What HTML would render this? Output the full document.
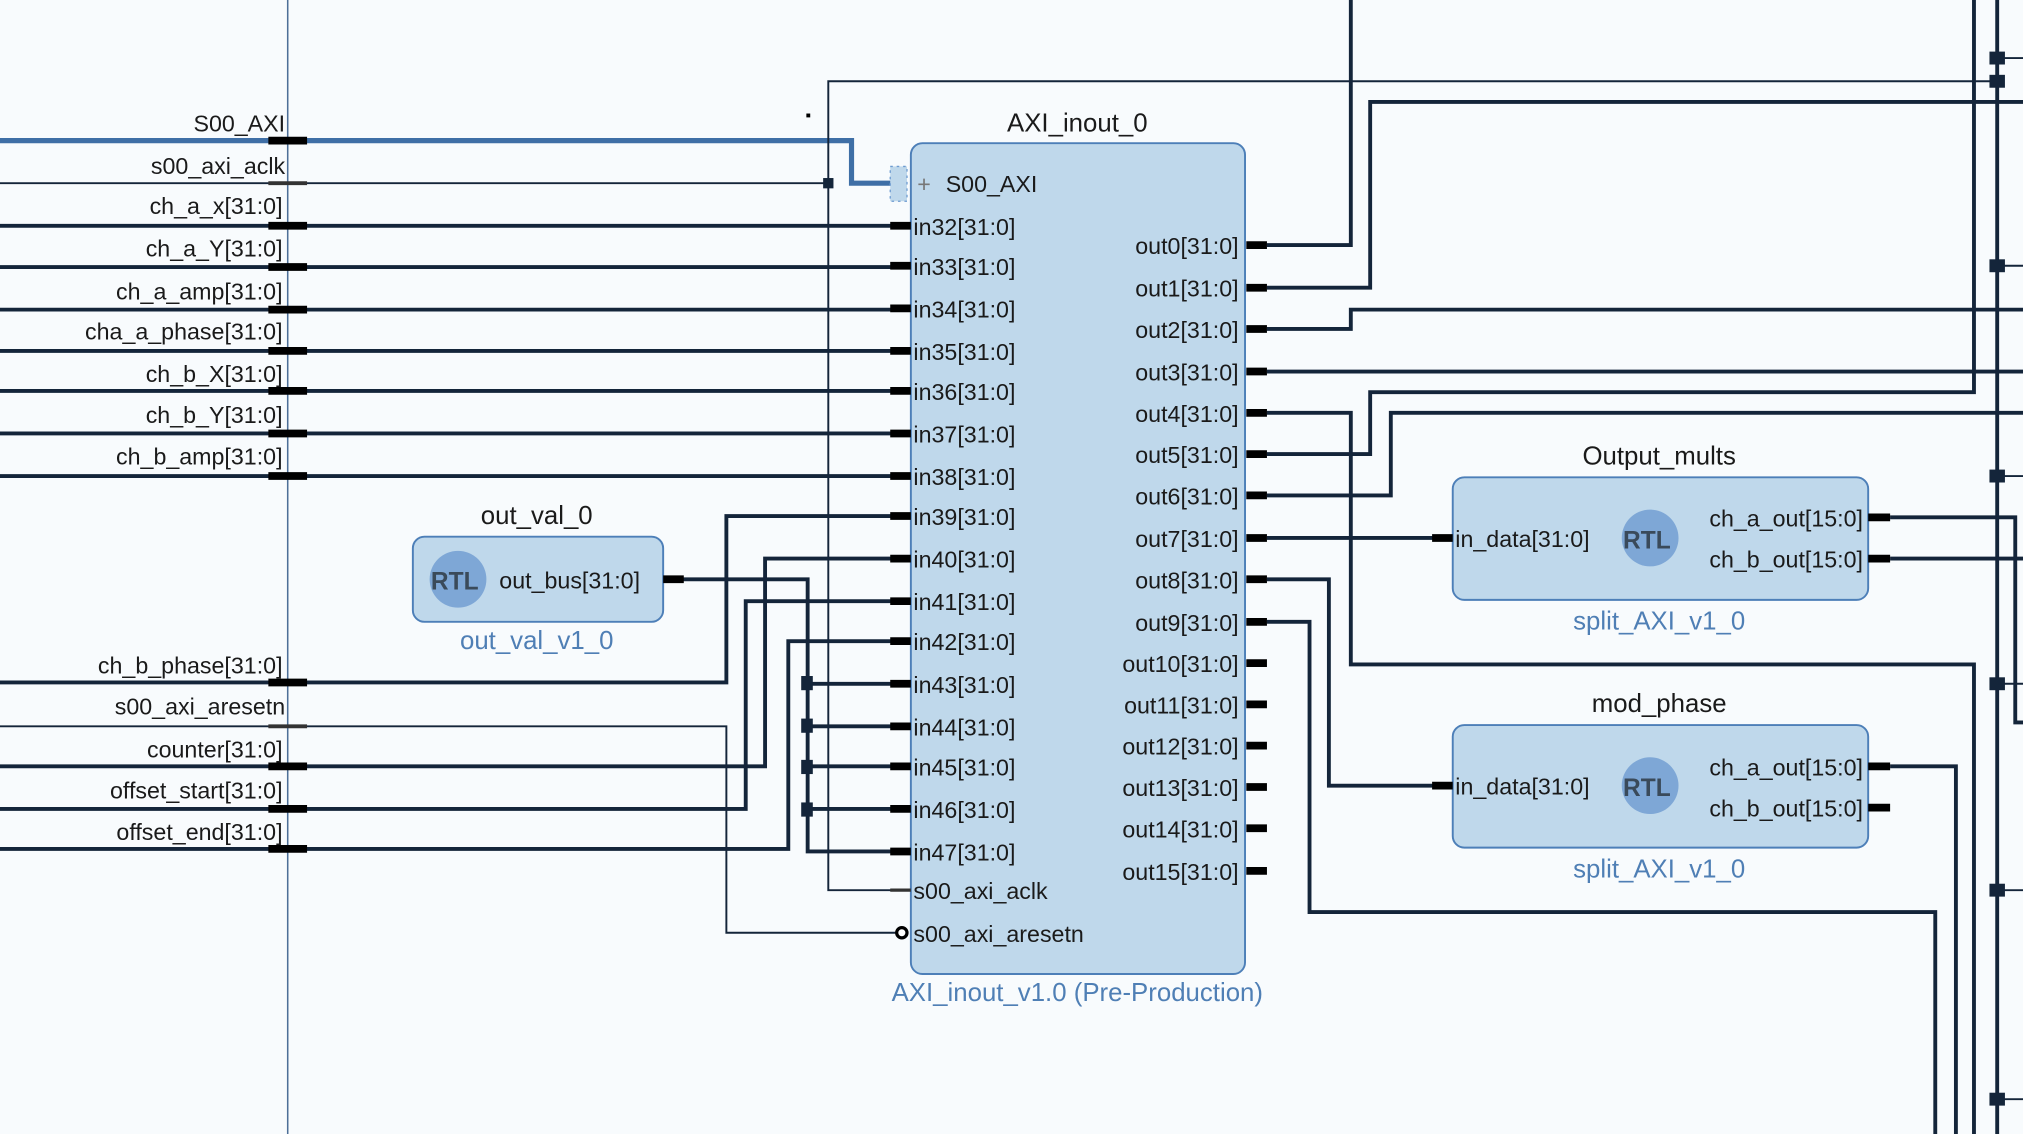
<!DOCTYPE html>
<html><head><meta charset="utf-8"><style>
html,body{margin:0;padding:0;background:#f8fbfd;}
svg{display:block}
text{font-family:"Liberation Sans Narrow","Liberation Sans",sans-serif;font-size:18px;fill:#1a1a1a;}
.t{font-size:20px}
.s{fill:#4f7fb5;font-size:20px}
.r{text-anchor:end}
.c{text-anchor:middle}
.w{stroke:#14253a;stroke-width:3;fill:none}
.n{stroke:#14253a;stroke-width:1.5;fill:none}
.p{stroke:#000;stroke-width:6;fill:none}
.blk{fill:#bfd8eb;stroke:#4d7fb8;stroke-width:1.5}
</style></head><body>
<svg width="2023" height="1134" viewBox="0 0 1568 879" preserveAspectRatio="none" xmlns="http://www.w3.org/2000/svg">
<rect width="1568" height="879" fill="#f8fbfd"/>
<line x1="223" y1="0" x2="223" y2="879" stroke="#4d6f98" stroke-width="1.2"/>

<!-- left wires -->
<polyline points="0,109 660,109 660,142 692,142" stroke="#3f6fa6" stroke-width="4" fill="none"/>
<line class="n" x1="0" y1="142" x2="642" y2="142"/>
<polyline class="n" points="1548,63 642,63 642,690 704,690"/>
<rect x="638" y="138" width="8" height="8" fill="#14253a"/>
<g class="w">
<line x1="0" y1="175" x2="700" y2="175"/>
<line x1="0" y1="207" x2="700" y2="207"/>
<line x1="0" y1="240" x2="700" y2="240"/>
<line x1="0" y1="272" x2="700" y2="272"/>
<line x1="0" y1="303" x2="700" y2="303"/>
<line x1="0" y1="336" x2="700" y2="336"/>
<line x1="0" y1="369" x2="700" y2="369"/>
<polyline points="0,529 563,529 563,400 700,400"/>
<polyline points="0,594 593,594 593,433 700,433"/>
<polyline points="0,627 578,627 578,466 700,466"/>
<polyline points="0,658 611,658 611,497 700,497"/>
<polyline points="514,449 626,449 626,660 700,660"/>
<line x1="626" y1="530" x2="700" y2="530"/>
<line x1="626" y1="563" x2="700" y2="563"/>
<line x1="626" y1="594" x2="700" y2="594"/>
<line x1="626" y1="627" x2="700" y2="627"/>
</g>
<g fill="#14253a">
<rect x="621" y="524" width="9" height="11"/><rect x="621" y="557" width="9" height="11"/>
<rect x="621" y="589" width="9" height="11"/><rect x="621" y="622" width="9" height="11"/>
</g>
<polyline class="n" points="0,563 563,563 563,723 694,723"/>
<rect x="625" y="88" width="3" height="3" fill="#000"/>

<!-- left port stubs -->
<g class="p">
<line x1="208" y1="109" x2="238" y2="109"/>
<line x1="208" y1="175" x2="238" y2="175"/><line x1="208" y1="207" x2="238" y2="207"/>
<line x1="208" y1="240" x2="238" y2="240"/><line x1="208" y1="272" x2="238" y2="272"/>
<line x1="208" y1="303" x2="238" y2="303"/><line x1="208" y1="336" x2="238" y2="336"/>
<line x1="208" y1="369" x2="238" y2="369"/><line x1="208" y1="529" x2="238" y2="529"/>
<line x1="208" y1="594" x2="238" y2="594"/><line x1="208" y1="627" x2="238" y2="627"/>
<line x1="208" y1="658" x2="238" y2="658"/>
</g>
<line x1="208" y1="142" x2="238" y2="142" stroke="#333" stroke-width="3"/>
<line x1="208" y1="563" x2="238" y2="563" stroke="#333" stroke-width="3"/>
<g class="r">
<text x="221" y="102">S00_AXI</text><text x="221" y="135">s00_axi_aclk</text>
<text x="219" y="166">ch_a_x[31:0]</text><text x="219" y="199">ch_a_Y[31:0]</text>
<text x="219" y="232">ch_a_amp[31:0]</text><text x="219" y="263">cha_a_phase[31:0]</text>
<text x="219" y="296">ch_b_X[31:0]</text><text x="219" y="328">ch_b_Y[31:0]</text>
<text x="219" y="360">ch_b_amp[31:0]</text><text x="219" y="522">ch_b_phase[31:0]</text>
<text x="221" y="554">s00_axi_aresetn</text><text x="219" y="587">counter[31:0]</text>
<text x="219" y="619">offset_start[31:0]</text><text x="219" y="651">offset_end[31:0]</text>
</g>

<!-- right wires -->
<g class="w">
<polyline points="982,190 1047,190 1047,0"/>
<polyline points="982,223 1062,223 1062,79 1568,79"/>
<polyline points="982,255 1047,255 1047,240 1568,240"/>
<line x1="982" y1="288" x2="1568" y2="288"/>
<polyline points="982,320 1047,320 1047,515 1530,515 1530,879"/>
<polyline points="982,352 1062,352 1062,304 1530,304 1530,0"/>
<polyline points="982,384 1078,384 1078,320 1568,320"/>
<line x1="982" y1="417" x2="1120" y2="417"/>
<polyline points="982,449 1030,449 1030,609 1120,609"/>
<polyline points="982,482 1015,482 1015,707 1500,707 1500,879"/>
<polyline points="1465,401 1562,401 1562,560 1568,560"/>
<line x1="1465" y1="433" x2="1568" y2="433"/>
<polyline points="1465,594 1516,594 1516,879"/>
<line x1="1548" y1="0" x2="1548" y2="879"/>
</g>
<g class="n">
<line x1="1548" y1="45" x2="1568" y2="45"/><line x1="1548" y1="206" x2="1568" y2="206"/>
<line x1="1548" y1="369" x2="1568" y2="369"/><line x1="1548" y1="530" x2="1568" y2="530"/>
<line x1="1548" y1="690" x2="1568" y2="690"/><line x1="1548" y1="852" x2="1568" y2="852"/>
</g>
<g fill="#14253a">
<rect x="1542" y="40" width="12" height="10"/><rect x="1542" y="58" width="12" height="10"/>
<rect x="1542" y="201" width="12" height="10"/><rect x="1542" y="364" width="12" height="10"/>
<rect x="1542" y="525" width="12" height="10"/><rect x="1542" y="685" width="12" height="10"/>
<rect x="1542" y="847" width="12" height="10"/>
</g>

<!-- AXI block -->
<text class="t c" x="835" y="102">AXI_inout_0</text>
<rect class="blk" x="706" y="111" width="259" height="644" rx="9"/>
<rect x="690" y="129" width="13" height="27" fill="#bfd8eb" stroke="#6d9bd0" stroke-width="1" stroke-dasharray="2,3"/>
<text x="711" y="149" style="fill:#777">+</text>
<text x="733" y="149">S00_AXI</text>
<g class="p">
<line x1="690" y1="175" x2="706" y2="175"/><line x1="690" y1="206" x2="706" y2="206"/>
<line x1="690" y1="239" x2="706" y2="239"/><line x1="690" y1="272" x2="706" y2="272"/>
<line x1="690" y1="303" x2="706" y2="303"/><line x1="690" y1="336" x2="706" y2="336"/>
<line x1="690" y1="369" x2="706" y2="369"/><line x1="690" y1="400" x2="706" y2="400"/>
<line x1="690" y1="433" x2="706" y2="433"/><line x1="690" y1="466" x2="706" y2="466"/>
<line x1="690" y1="497" x2="706" y2="497"/><line x1="690" y1="530" x2="706" y2="530"/>
<line x1="690" y1="563" x2="706" y2="563"/><line x1="690" y1="594" x2="706" y2="594"/>
<line x1="690" y1="627" x2="706" y2="627"/><line x1="690" y1="660" x2="706" y2="660"/>
<line x1="966" y1="190" x2="982" y2="190"/><line x1="966" y1="223" x2="982" y2="223"/>
<line x1="966" y1="255" x2="982" y2="255"/><line x1="966" y1="288" x2="982" y2="288"/>
<line x1="966" y1="320" x2="982" y2="320"/><line x1="966" y1="352" x2="982" y2="352"/>
<line x1="966" y1="384" x2="982" y2="384"/><line x1="966" y1="417" x2="982" y2="417"/>
<line x1="966" y1="449" x2="982" y2="449"/><line x1="966" y1="482" x2="982" y2="482"/>
<line x1="966" y1="514" x2="982" y2="514"/><line x1="966" y1="546" x2="982" y2="546"/>
<line x1="966" y1="578" x2="982" y2="578"/><line x1="966" y1="610" x2="982" y2="610"/>
<line x1="966" y1="642" x2="982" y2="642"/><line x1="966" y1="675" x2="982" y2="675"/>
</g>
<line x1="690" y1="690" x2="706" y2="690" stroke="#333" stroke-width="2.5"/>
<circle cx="699" cy="723" r="4" fill="#fff" stroke="#000" stroke-width="2.5"/>
<g>
<text x="708" y="182">in32[31:0]</text><text x="708" y="213">in33[31:0]</text>
<text x="708" y="246">in34[31:0]</text><text x="708" y="279">in35[31:0]</text>
<text x="708" y="310">in36[31:0]</text><text x="708" y="343">in37[31:0]</text>
<text x="708" y="376">in38[31:0]</text><text x="708" y="407">in39[31:0]</text>
<text x="708" y="440">in40[31:0]</text><text x="708" y="473">in41[31:0]</text>
<text x="708" y="504">in42[31:0]</text><text x="708" y="537">in43[31:0]</text>
<text x="708" y="570">in44[31:0]</text><text x="708" y="601">in45[31:0]</text>
<text x="708" y="634">in46[31:0]</text><text x="708" y="667">in47[31:0]</text>
<text x="708" y="697">s00_axi_aclk</text><text x="708" y="730">s00_axi_aresetn</text>
</g>
<g class="r">
<text x="960" y="197">out0[31:0]</text><text x="960" y="230">out1[31:0]</text>
<text x="960" y="262">out2[31:0]</text><text x="960" y="295">out3[31:0]</text>
<text x="960" y="327">out4[31:0]</text><text x="960" y="359">out5[31:0]</text>
<text x="960" y="391">out6[31:0]</text><text x="960" y="424">out7[31:0]</text>
<text x="960" y="456">out8[31:0]</text><text x="960" y="489">out9[31:0]</text>
<text x="960" y="521">out10[31:0]</text><text x="960" y="553">out11[31:0]</text>
<text x="960" y="585">out12[31:0]</text><text x="960" y="617">out13[31:0]</text>
<text x="960" y="649">out14[31:0]</text><text x="960" y="682">out15[31:0]</text>
</g>
<text class="s c" x="835" y="776">AXI_inout_v1.0 (Pre-Production)</text>

<!-- out_val_0 -->
<text class="t c" x="416" y="406">out_val_0</text>
<rect class="blk" x="320" y="416" width="194" height="66" rx="9"/>
<circle cx="355" cy="449" r="22" fill="#7ea7d6"/>
<text x="334" y="457" style="font-weight:bold;fill:#3a4a5a;font-size:19px">RTL</text>
<text x="387" y="456">out_bus[31:0]</text>
<line class="p" x1="514" y1="449" x2="530" y2="449"/>
<text class="s c" x="416" y="503">out_val_v1_0</text>

<!-- Output_mults -->
<text class="t c" x="1286" y="360">Output_mults</text>
<rect class="blk" x="1126" y="370" width="322" height="95" rx="9"/>
<circle cx="1279" cy="417" r="22" fill="#7ea7d6"/>
<text x="1258" y="425" style="font-weight:bold;fill:#3a4a5a;font-size:19px">RTL</text>
<text x="1128" y="424">in_data[31:0]</text>
<text class="r" x="1444" y="408">ch_a_out[15:0]</text>
<text class="r" x="1444" y="440">ch_b_out[15:0]</text>
<g class="p"><line x1="1110" y1="417" x2="1126" y2="417"/><line x1="1448" y1="401" x2="1465" y2="401"/><line x1="1448" y1="433" x2="1465" y2="433"/></g>
<text class="s c" x="1286" y="488">split_AXI_v1_0</text>

<!-- mod_phase -->
<text class="t c" x="1286" y="552">mod_phase</text>
<rect class="blk" x="1126" y="562" width="322" height="95" rx="9"/>
<circle cx="1279" cy="609" r="22" fill="#7ea7d6"/>
<text x="1258" y="617" style="font-weight:bold;fill:#3a4a5a;font-size:19px">RTL</text>
<text x="1128" y="616">in_data[31:0]</text>
<text class="r" x="1444" y="601">ch_a_out[15:0]</text>
<text class="r" x="1444" y="633">ch_b_out[15:0]</text>
<g class="p"><line x1="1110" y1="609" x2="1126" y2="609"/><line x1="1448" y1="594" x2="1465" y2="594"/><line x1="1448" y1="626" x2="1465" y2="626"/></g>
<text class="s c" x="1286" y="680">split_AXI_v1_0</text>
</svg>
</body></html>
